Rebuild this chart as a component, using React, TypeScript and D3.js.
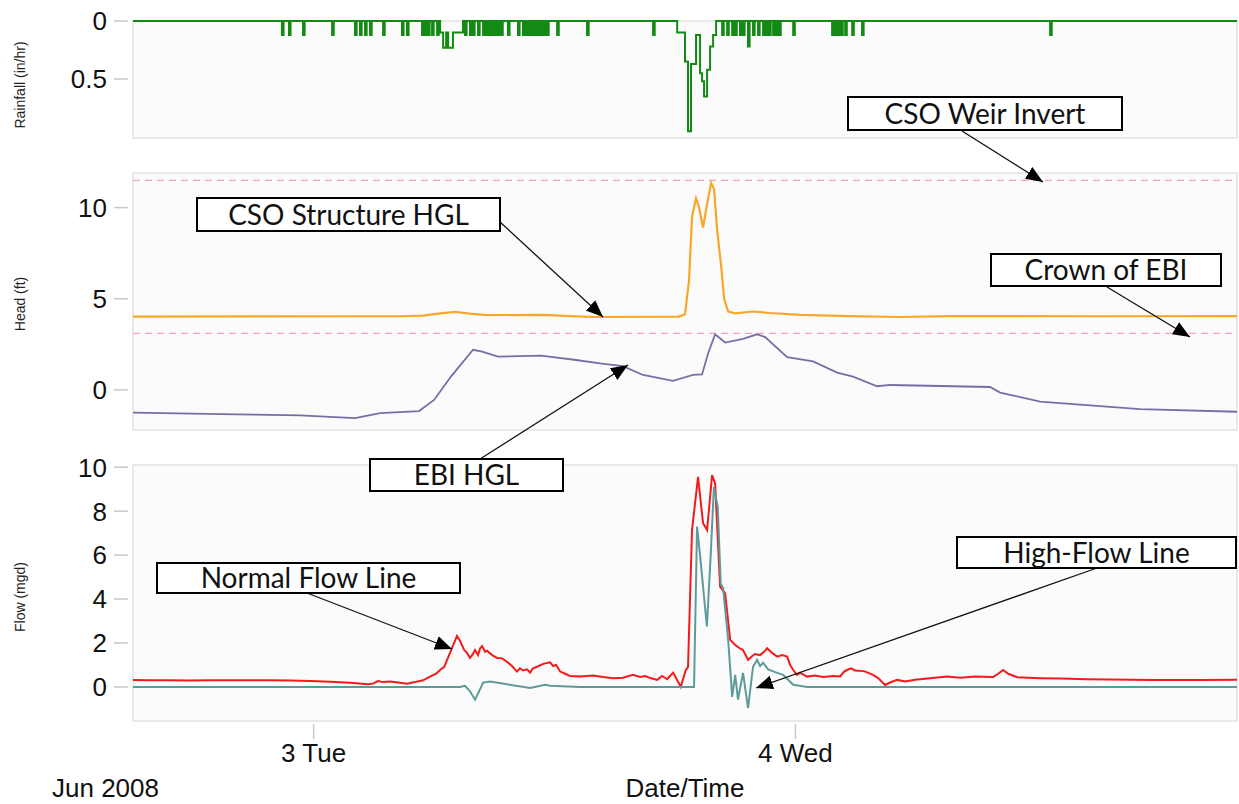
import React from "react";
import * as d3 from "d3";

// times are hours after 2 Jun 2008 00:00
const rainPulseHours = [
  22.42, 22.77, 23.47, 24.92, 26.06, 26.31, 26.56, 26.81, 27.46, 28.4, 28.65,
  29.4, 29.55, 29.7, 29.9, 30.15, 31.54, 31.79, 31.94, 32.19, 32.44, 32.59,
  32.74, 32.89, 33.04, 33.19, 33.34, 33.68, 34.18, 34.43, 34.58, 34.73, 34.88,
  35.03, 35.18, 35.33, 35.48, 35.63, 36.13, 37.62, 40.91, 44.35, 44.6, 44.85,
  45.0, 45.24, 45.39, 45.64, 45.89, 46.14, 46.39, 46.54, 46.69, 46.89, 47.04,
  47.19, 47.89, 49.83, 49.98, 50.13, 50.28, 50.48, 50.83, 51.32, 60.69,
];
const rainPulseValues = [
  0.12, 0.12, 0.12, 0.12, 0.12, 0.12, 0.12, 0.12, 0.12, 0.12, 0.12, 0.12, 0.12,
  0.12, 0.12, 0.12, 0.12, 0.12, 0.12, 0.12, 0.12, 0.12, 0.12, 0.12, 0.12, 0.12,
  0.12, 0.12, 0.12, 0.12, 0.12, 0.12, 0.12, 0.12, 0.12, 0.12, 0.12, 0.12, 0.12,
  0.12, 0.12, 0.12, 0.12, 0.12, 0.12, 0.12, 0.12, 0.22, 0.12, 0.12, 0.12, 0.12,
  0.12, 0.12, 0.12, 0.12, 0.12, 0.12, 0.12, 0.12, 0.12, 0.12, 0.12, 0.12, 0.12,
];

const rainStepHours = [
  30.3, 30.45, 30.6, 30.7, 30.94, 31.44, 42.11, 42.5, 42.65, 42.8, 43.05,
  43.25, 43.35, 43.45, 43.6, 43.75, 43.9, 44.05,
];
const rainStepValues = [
  0.1, 0.23, 0.1, 0.23, 0.1, 0, 0.1, 0.35, 0.95, 0.37, 0.12, 0.45, 0.52, 0.65,
  0.42, 0.22, 0.12, 0,
];

const csoHours = [
  15, 20.83, 28.3, 29.45, 30.3, 31.04, 31.79, 32.64, 35.48, 36.77, 37.97, 42.2,
  42.5, 42.7, 42.85, 43.05, 43.2, 43.4, 43.6, 43.8, 43.95, 44.1, 44.3, 44.45,
  44.65, 45.0, 45.89, 46.74, 48.23, 50.72, 53.22, 55.71, 58.2, 63.18, 70,
];
const csoHead = [
  4.02, 4.03, 4.04, 4.08, 4.2, 4.28, 4.18, 4.1, 4.12, 4.05, 4.0, 4.02, 4.15,
  6.0, 9.5, 10.5, 10.0, 8.9, 10.2, 11.35, 11.0, 8.8, 6.8, 5.0, 4.3, 4.2, 4.3,
  4.22, 4.12, 4.05, 4.0, 4.05, 4.05, 4.04, 4.05,
];

const ebiHours = [
  15, 20.18, 23.32, 26.06, 27.31, 29.25, 30.0, 30.84, 31.94, 32.39, 33.19,
  35.33, 37.07, 38.27, 39.41, 40.41, 41.9, 42.9, 43.35, 43.65, 44.0, 44.5,
  45.39, 46.09, 46.49, 47.59, 48.88, 50.08, 50.87, 52.07, 52.72, 57.7, 58.2,
  60.19, 65.17, 70,
];
const ebiHead = [
  -1.25, -1.34, -1.4, -1.55, -1.27, -1.16, -0.55, 0.73, 2.2, 2.1, 1.83, 1.88,
  1.64, 1.45, 1.3, 0.82, 0.5, 0.82, 0.85, 2.0, 3.05, 2.6, 2.8, 3.05, 2.9, 1.8,
  1.56, 0.95, 0.73, 0.2, 0.27, 0.16, -0.15, -0.64, -1.06, -1.2,
];

const weirInvert = 11.5;
const crownEBI = 3.1;

const normalHours = [
  15, 15.85, 16.84, 17.84, 18.84, 19.83, 20.83, 21.83, 22.82, 23.82, 24.82,
  25.81, 26.71, 26.96, 27.21, 27.46, 27.81, 28.2, 28.65, 29.05, 29.45, 29.8,
  30.1, 30.3, 30.5, 30.65, 30.89, 31.14, 31.29, 31.49, 31.64, 31.79, 31.94,
  32.04, 32.19, 32.29, 32.39, 32.54, 32.64, 32.89, 33.14, 33.39, 33.63, 33.88,
  34.13, 34.28, 34.43, 34.63, 34.78, 34.93, 35.13, 35.43, 35.78, 35.93, 36.08,
  36.28, 36.53, 36.77, 37.27, 37.92, 38.42, 38.92, 39.41, 39.91, 40.26, 40.51,
  40.86, 41.11, 41.36, 41.61, 41.91, 42.06, 42.29, 42.45, 42.54, 42.65, 42.85,
  43.15, 43.4, 43.6, 43.85, 44.0, 44.25, 44.5, 44.75, 45.0, 45.24, 45.39,
  45.64, 45.84, 45.99, 46.24, 46.44, 46.59, 46.84, 47.09, 47.34, 47.59, 47.74,
  47.89, 48.08, 48.23, 48.58, 48.98, 49.38, 49.88, 50.23, 50.43, 50.57, 50.77,
  50.97, 51.42, 51.87, 52.12, 52.47, 52.72, 53.07, 53.47, 53.96, 54.71, 55.56,
  56.21, 56.96, 57.85, 58.1, 58.35, 58.6, 59.05, 60.19, 61.19, 62.53, 63.68,
  65.82, 68.16, 70,
];
const normalFlow = [
  0.32, 0.3, 0.31, 0.29, 0.31, 0.3, 0.31, 0.3, 0.29, 0.27, 0.24, 0.19, 0.12,
  0.15, 0.27, 0.22, 0.25, 0.2, 0.15, 0.22, 0.3, 0.47, 0.6, 0.77, 0.9, 1.23,
  1.77, 2.32, 2.1, 1.7, 1.55, 1.32, 1.5, 1.68, 1.45, 1.75, 1.86, 1.6, 1.65,
  1.45, 1.32, 1.3, 1.15, 0.95, 0.7, 0.85, 0.75, 0.8, 0.65, 0.85, 0.92, 1.05,
  1.12, 0.95, 1.0, 0.7, 0.6, 0.5, 0.48, 0.52, 0.45, 0.4, 0.42, 0.55, 0.45, 0.5,
  0.38, 0.32, 0.5, 0.35, 0.65, 0.4, 0.0, 0.5, 0.77, 0.9, 7.14, 9.56, 7.45,
  7.14, 9.64, 9.26, 4.56, 4.26, 2.14, 1.91, 1.75, 1.68, 1.23, 1.4, 1.5, 1.45,
  1.6, 1.76, 1.55, 1.38, 1.45, 1.38, 1.0, 0.77, 0.55, 0.65, 0.47, 0.52, 0.45,
  0.5, 0.48, 0.7, 0.77, 0.85, 0.75, 0.72, 0.55, 0.4, 0.09, 0.2, 0.32, 0.25,
  0.33, 0.4, 0.47, 0.42, 0.47, 0.45, 0.6, 0.77, 0.6, 0.44, 0.4, 0.38, 0.35,
  0.34, 0.32, 0.32, 0.33,
];

const highHours = [
  15, 31.29, 31.54, 31.79, 32.04, 32.24, 32.44, 32.79, 33.63, 34.78, 35.53,
  35.78, 37.27, 42.95, 43.1, 43.25, 43.59, 43.78, 43.94, 44.13, 44.28, 44.4,
  44.65, 44.85, 45.0, 45.14, 45.39, 45.64, 45.89, 46.09, 46.24, 46.39, 46.64,
  47.09, 47.39, 47.89, 48.58, 70,
];
const highFlow = [
  0, 0, 0.05, -0.2, -0.58, -0.2, 0.2, 0.25, 0.12, -0.05, 0.1, 0.05, 0, 0, 7.3,
  6.0, 2.75, 6.0, 9.1, 8.2, 4.7, 4.5, 2.15, -0.45, 0.55, -0.58, 0.64, -0.96,
  0.92, 1.23, 0.95, 1.1, 0.8, 0.64, 0.55, 0.1, 0, 0,
];

const rainTicks = [0, 0.5];
const headTicks = [0, 5, 10];
const flowTicks = [0, 2, 4, 6, 8, 10];
const dayTickHours = [24, 48];
const dayTickLabels = ["3 Tue", "4 Wed"];

const toDate = (h: number) => new Date(2008, 5, 2, 0, 0, 0, h * 3600 * 1000);

const left = 133;
const right = 1237;
const panels = {
  rain: { top: 21, bottom: 138 },
  head: { top: 173, bottom: 430 },
  flow: { top: 465, bottom: 721 },
};

const axisFont = "'Liberation Sans', Arial, sans-serif";
const noteFont = "Lato, 'Open Sans', sans-serif";
const axisSize = 26;

const Note = ({ x, y, w, h, text, from, to }) => (
  <g>
    <line
      x1={from[0]}
      y1={from[1]}
      x2={to[0]}
      y2={to[1]}
      stroke="#111"
      strokeWidth={1.3}
      markerEnd="url(#arrow)"
    />
    <rect x={x} y={y} width={w} height={h} fill="#fff" stroke="#000" strokeWidth={2} />
    <text
      x={x + w / 2}
      y={y + h / 2}
      dy="0.36em"
      textAnchor="middle"
      fontFamily={noteFont}
      fontSize={28}
      fill="#111"
    >
      {text}
    </text>
  </g>
);

const App = () => {
  const x = d3
    .scaleTime()
    .domain([toDate(15), toDate(70)])
    .range([left, right]);

  const yRain = d3.scaleLinear().domain([0, 1]).range([panels.rain.top, 137]);
  const yHead = d3
    .scaleLinear()
    .domain([-2.2, 11.9])
    .range([panels.head.bottom, panels.head.top]);
  const yFlow = d3
    .scaleLinear()
    .domain([-1.55, 10.1])
    .range([panels.flow.bottom, panels.flow.top]);

  // rainfall as one step series: pulses drop back to zero after a short record
  const pulseWidth = 0.08;
  const rainPts: [number, number][] = [[15, 0], [70, 0]];
  rainPulseHours.forEach((h, i) => {
    rainPts.push([h, rainPulseValues[i]]);
    rainPts.push([h + pulseWidth, 0]);
  });
  rainStepHours.forEach((h, i) => rainPts.push([h, rainStepValues[i]]));
  rainPts.sort((a, b) => a[0] - b[0]);

  const rainLine = d3
    .line<[number, number]>()
    .x((d) => x(toDate(d[0])))
    .y((d) => yRain(d[1]))
    .curve(d3.curveStepAfter);

  const seriesLine = (yScale) =>
    d3
      .line<[number, number]>()
      .x((d) => x(toDate(d[0])))
      .y((d) => yScale(d[1]));

  const zip = (a: number[], b: number[]) => a.map((v, i) => [v, b[i]] as [number, number]);

  const yTicks = (scale, ticks) =>
    ticks.map((t) => (
      <g key={t} transform={`translate(0,${scale(t)})`}>
        <line x1={114} x2={128} stroke="#c8c8c8" strokeWidth={1.5} />
        <text
          x={107}
          dy="0.36em"
          textAnchor="end"
          fontFamily={axisFont}
          fontSize={axisSize}
          fill="#111"
        >
          {t}
        </text>
      </g>
    ));

  const panelRect = (p) => (
    <rect
      x={left}
      y={p.top}
      width={right - left}
      height={p.bottom - p.top}
      fill="#fbfbfb"
      stroke="#e2e2e2"
      strokeWidth={1.5}
    />
  );

  const yTitle = (label, cy) => (
    <text
      transform={`translate(25,${cy}) rotate(-90)`}
      textAnchor="middle"
      fontFamily={axisFont}
      fontSize={14}
      fill="#222"
    >
      {label}
    </text>
  );

  return (
    <svg
      width={1239}
      height={804}
      style={{ position: "absolute", left: 0, top: 0, background: "#fff" }}
    >
      <defs>
        <marker
          id="arrow"
          markerUnits="userSpaceOnUse"
          markerWidth={18}
          markerHeight={16}
          refX={17}
          refY={8}
          orient="auto"
        >
          <path d="M0,1 L17,8 L0,15 z" fill="#000" />
        </marker>
      </defs>

      {panelRect(panels.rain)}
      {panelRect(panels.head)}
      {panelRect(panels.flow)}

      {yTicks(yRain, rainTicks)}
      {yTicks(yHead, headTicks)}
      {yTicks(yFlow, flowTicks)}

      {yTitle("Rainfall (in/hr)", 85)}
      {yTitle("Head (ft)", 304)}
      {yTitle("Flow (mgd)", 597)}

      {/* rainfall */}
      <path d={rainLine(rainPts)} fill="none" stroke="#138a13" strokeWidth={2} />

      {/* head */}
      {[weirInvert, crownEBI].map((v) => (
        <line
          key={v}
          x1={left}
          x2={right}
          y1={yHead(v)}
          y2={yHead(v)}
          stroke="#f4a3bd"
          strokeWidth={1.3}
          strokeDasharray="7,5"
        />
      ))}
      <path
        d={seriesLine(yHead)(zip(ebiHours, ebiHead))}
        fill="none"
        stroke="#7470a6"
        strokeWidth={1.8}
      />
      <path
        d={seriesLine(yHead)(zip(csoHours, csoHead))}
        fill="none"
        stroke="#f9a72b"
        strokeWidth={2.2}
      />

      {/* flow */}
      <path
        d={seriesLine(yFlow)(zip(normalHours, normalFlow))}
        fill="none"
        stroke="#f41a1a"
        strokeWidth={2}
      />
      <path
        d={seriesLine(yFlow)(zip(highHours, highFlow))}
        fill="none"
        stroke="#5f9a9a"
        strokeWidth={2}
      />

      {/* time axis */}
      {dayTickHours.map((h, i) => (
        <g key={h} transform={`translate(${x(toDate(h))},0)`}>
          <line y1={724} y2={739} stroke="#c8c8c8" strokeWidth={1.5} />
          <text
            y={762}
            textAnchor="middle"
            fontFamily={axisFont}
            fontSize={axisSize}
            fill="#111"
          >
            {dayTickLabels[i]}
          </text>
        </g>
      ))}
      <text x={52} y={797} fontFamily={axisFont} fontSize={axisSize} fill="#111">
        Jun 2008
      </text>
      <text
        x={685}
        y={797}
        textAnchor="middle"
        fontFamily={axisFont}
        fontSize={axisSize}
        fill="#111"
      >
        Date/Time
      </text>

      {/* annotations */}
      <Note x={848} y={97} w={274} h={33} text="CSO Weir Invert" from={[962, 131]} to={[1043, 182]} />
      <Note x={197} y={198} w={303} h={33} text="CSO Structure HGL" from={[500, 222]} to={[603, 317]} />
      <Note x={991} y={254} w={230} h={32} text="Crown of EBI" from={[1107, 287]} to={[1190, 337]} />
      <Note x={370} y={459} w={193} h={32} text="EBI HGL" from={[480, 459]} to={[628, 365]} />
      <Note x={157} y={563} w={303} h={30} text="Normal Flow Line" from={[307, 593]} to={[452, 649]} />
      <Note x={957} y={537} w={279} h={31} text="High-Flow Line" from={[1097, 568]} to={[756, 688]} />
    </svg>
  );
};

export default App;
